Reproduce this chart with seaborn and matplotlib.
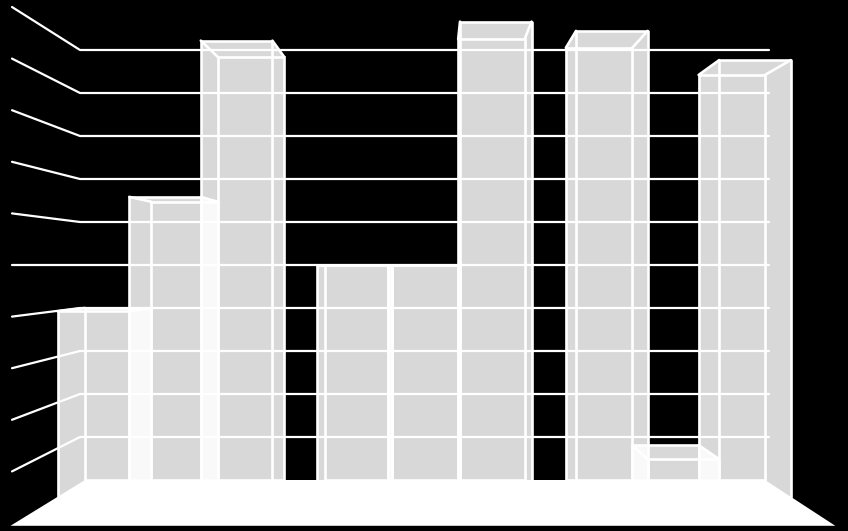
import matplotlib
matplotlib.use("Agg")
import matplotlib.pyplot as plt
import pandas as pd
import seaborn as sns

categories = ["1", "2", "3"]
series_a = [4.0, 5.0, 10.05]
series_b = [6.47, 5.0, 0.81]
series_c = [9.84, 10.25, 9.42]
grid_values = [1, 2, 3, 4, 5, 6, 7, 8, 9, 10]

df = pd.DataFrame({
    "cat": categories * 3,
    "series": ["a"] * 3 + ["b"] * 3 + ["c"] * 3,
    "value": series_a + series_b + series_c,
})

sns.set_theme(style="white", rc={"figure.facecolor": "black", "savefig.facecolor": "black"})

fig = plt.figure(figsize=(8.48, 5.31), dpi=100)
# back wall of the box in pixels: x 85-765, y 50-480
ax = fig.add_axes([85 / 848, (531 - 480) / 531, 680 / 848, 430 / 531])
sns.barplot(data=df, x="cat", y="value", hue="series", width=0.8284, gap=0, dodge=True,
            legend=False, ax=ax, facecolor="none", edgecolor="white", linewidth=1.9,
            err_kws={"linewidth": 0}, zorder=4)
ax.set_xlim(-0.4142, 2.4142)
ax.set_ylim(0, 10)
ax.axis("off")

unit = 2.8284 / 680  # data x per pixel
x_left, x_right = ax.get_xlim()
vx = x_left + (435 - 85) * unit  # vanishing point
vy = 5
depth = 1.078  # bars stand from the back wall to this scale
floor_depth = 1.213


def proj(x, y, s):
    return vx + (x - vx) * s, vy + (y - vy) * s


def face(points):
    xs, ys = zip(*points)
    ax.fill(xs, ys, color="white", alpha=0.85, lw=0, zorder=2, clip_on=False)


def wire(points, lw=1.9, zorder=4):
    xs, ys = zip(*points)
    ax.plot(xs, ys, color="white", lw=lw, zorder=zorder, clip_on=False,
            solid_capstyle="round", solid_joinstyle="round")


for bar in list(ax.patches):
    bar.set_clip_on(False)
    x0, w, h = bar.get_x(), bar.get_width(), bar.get_height()
    x1 = x0 + w
    f = {k: proj(*k, depth) for k in [(x0, 0), (x1, 0), (x0, h), (x1, h)]}

    # front face
    face([f[(x0, 0)], f[(x1, 0)], f[(x1, h)], f[(x0, h)]])
    # side facing the viewer
    if x1 < vx:
        face([(x1, 0), f[(x1, 0)], f[(x1, h)], (x1, h)])
    if x0 > vx:
        face([(x0, 0), f[(x0, 0)], f[(x0, h)], (x0, h)])
    # top only shows below eye level
    if h < vy:
        face([(x0, h), (x1, h), f[(x1, h)], f[(x0, h)]])

    wire([f[(x0, 0)], f[(x0, h)], f[(x1, h)], f[(x1, 0)]])
    wire([(x0, h), f[(x0, h)]])
    wire([(x1, h), f[(x1, h)]])

# gridlines and the strokes running out along the left wall
for v in grid_values:
    wall_x = x_left - 73 * unit
    wall_y = vy + (v - vy) * 1.2
    wire([(wall_x, wall_y), (x_left - 5 * unit, v), (x_right + 4 * unit, v)], lw=1.6, zorder=5)

# floor
fl = [(x_left, 0), (x_right, 0), proj(x_right, 0, floor_depth), proj(x_left, 0, floor_depth)]
xs, ys = zip(*fl)
ax.fill(xs, ys, color="white", lw=0, zorder=6, clip_on=False)

plt.savefig("out.png", dpi=100)
